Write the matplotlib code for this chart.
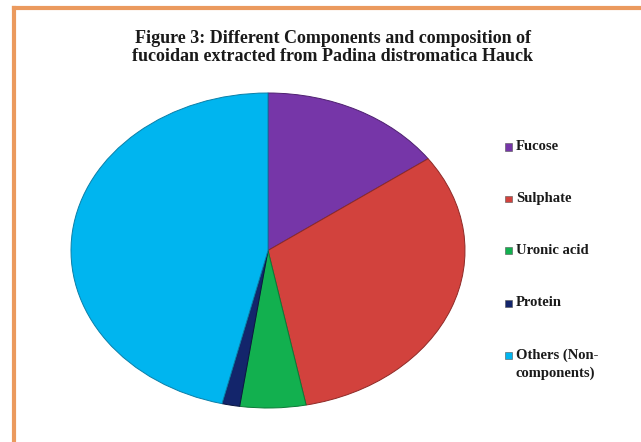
import matplotlib
matplotlib.use("Agg")
import matplotlib.pyplot as plt
from matplotlib.patches import Rectangle
from matplotlib.lines import Line2D

# composition (% of fucoidan)
labels = ["Fucose", "Sulphate", "Uronic acid", "Protein", "Others (Non-\ncomponents)"]
values = [15.1, 31.8, 5.4, 1.45, 46.25]
colors = ["#7636A8", "#D2423D", "#12B04F", "#13256B", "#00B5EF"]
edges = ["#4e2070", "#8e2a27", "#0b7a37", "#0a1540", "#0a7fa8"]

title = ("Figure 3: Different Components and composition of\n"
         "fucoidan extracted from Padina distromatica Hauck")

W, H = 641, 442
fig = plt.figure(figsize=(W / 100, H / 100), dpi=100)
fig.patch.set_facecolor("white")

# orange frame (only top and left edge visible, the rest is cropped off)
fig.add_artist(Line2D([14 / W, 14 / W], [0, 1 - 8 / H], color="#EB9A5E", lw=3,
                      transform=fig.transFigure))
fig.add_artist(Line2D([14 / W, 1], [1 - 8 / H, 1 - 8 / H], color="#EB9A5E", lw=3,
                      transform=fig.transFigure))

fig.text(333 / W, 1 - 47.5 / H, title, ha="center", va="center",
         fontsize=13.0, fontweight="bold", family="Liberation Serif",
         color="#1a1a1a", linespacing=1.1)

# pie is drawn squashed into an ellipse (rx ~197 px, ry ~157 px)
cx, cy, rx, ry = 268, 250.5, 197, 157.5
ax = fig.add_axes([(cx - rx) / W, (H - cy - ry) / H, 2 * rx / W, 2 * ry / H])
wedges, _ = ax.pie(values, colors=colors, startangle=90, counterclock=False,
                   wedgeprops=dict(linewidth=0.7))
for w, ec in zip(wedges, edges):
    w.set_edgecolor(ec)
ax.set_aspect("auto")
ax.set_xlim(-1.0, 1.0)
ax.set_ylim(-1.0, 1.0)
ax.axis("off")

# legend, drawn by hand to keep Excel's wide spacing
ys = [147, 199, 251, 303, 355]
for lab, col, y in zip(labels, colors, ys):
    fig.add_artist(Rectangle((505 / W, 1 - (y + 3.5) / H), 7 / W, 7 / H,
                             facecolor=col, edgecolor="#555555", lw=0.4,
                             transform=fig.transFigure))
    multi = "\n" in lab
    fig.text(516 / W, 1 - (y - 6 if multi else y) / H, lab, ha="left",
             va="top" if multi else "center",
             fontsize=10.5, fontweight="bold", family="Liberation Serif",
             color="#1a1a1a", linespacing=1.35)

fig.savefig("out.png", dpi=100)
